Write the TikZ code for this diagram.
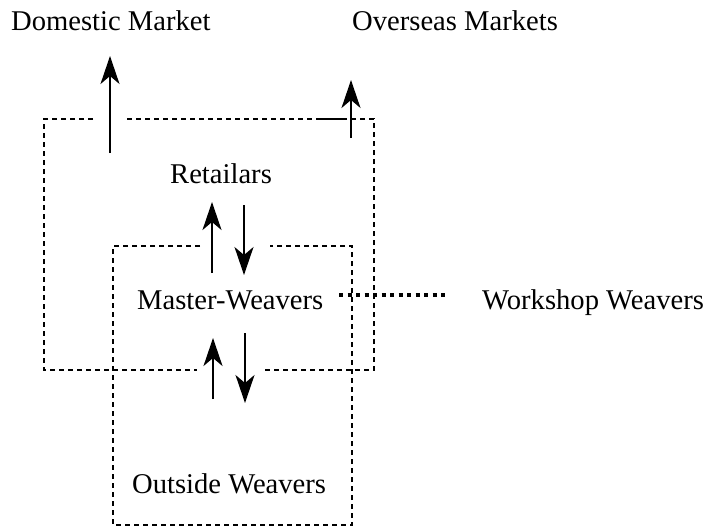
\documentclass[tikz,border=0pt]{standalone}
\usepackage{fontspec}
\setmainfont{Liberation Serif}
\usetikzlibrary{arrows.meta}
\begin{document}
\begin{tikzpicture}[x=1pt,y=-1pt,
  lbl/.style={font=\fontsize{28.6}{34}\selectfont, inner sep=0pt, anchor=base west},
  boxline/.style={line width=1.6pt, dash pattern=on 5pt off 4pt},
  solidline/.style={line width=1.6pt},
  arr/.style={line width=1.8pt, -{Stealth[length=28pt,width=19pt,inset=8pt]}},
  thickdot/.style={line width=3.5pt, dash pattern=on 4pt off 4.5pt}]
\useasboundingbox (0,0) rectangle (717,528);

% text nodes
\node[lbl] (dom) at (11,30) {Domestic Market};
\node[lbl] (ovs) at (352,30) {Overseas Markets};
\node[lbl] (ret) at (170,183) {Retailars};
\node[lbl] (mw)  at (137,309) {Master-Weavers};
\node[lbl] (ww)  at (482,309) {Workshop Weavers};
\node[lbl] (ow)  at (132,493) {Outside Weavers};

% outer dashed frame
\coordinate (o1) at (44,119);
\coordinate (o2) at (374,119);
\coordinate (o3) at (374,370);
\coordinate (o4) at (44,370);
\coordinate (ogl) at (93,119);
\coordinate (ogr) at (127,119);
\coordinate (os1) at (320,119);
\coordinate (os2) at (343,119);
\coordinate (obr) at (265,370);
\coordinate (obl) at (197,370);
\draw[boxline] (ogl) -- (o1) -- (o4) -- (obl);
\draw[boxline] (obr) -- (o3) -- (o2) -- (os2);
\draw[boxline] (ogr) -- (os1);
\draw[solidline] (os1) -- (os2);

% inner dashed frame
\coordinate (i1) at (113,246);
\coordinate (i2) at (352,246);
\coordinate (i3) at (352,525);
\coordinate (i4) at (113,525);
\coordinate (igl) at (200,246);
\coordinate (igr) at (270,246);
\draw[boxline] (igl) -- (i1) -- (i4) -- (i3) -- (i2) -- (igr);

% arrows
\coordinate (a1s) at (110,153); \coordinate (a1e) at (110,56);
\coordinate (a2s) at (351,138); \coordinate (a2e) at (351,80);
\coordinate (a3s) at (212,273); \coordinate (a3e) at (212,202);
\coordinate (a4s) at (244,205); \coordinate (a4e) at (244,275);
\coordinate (a5s) at (213,399); \coordinate (a5e) at (213,338);
\coordinate (a6s) at (245,333); \coordinate (a6e) at (245,403);
\draw[arr] (a1s) -- (a1e);
\draw[arr] (a2s) -- (a2e);
\draw[arr] (a3s) -- (a3e);
\draw[arr] (a4s) -- (a4e);
\draw[arr] (a5s) -- (a5e);
\draw[arr] (a6s) -- (a6e);

% workshop link
\coordinate (d1) at (339,295);
\coordinate (d2) at (448,295);
\draw[thickdot] (d1) -- (d2);
\end{tikzpicture}
\end{document}
